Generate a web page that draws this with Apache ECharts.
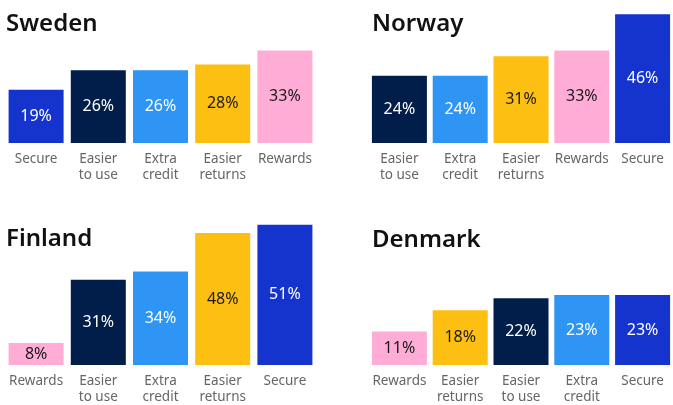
<!DOCTYPE html>
<html>
<head>
<meta charset="utf-8">
<script src="https://cdn.jsdelivr.net/npm/echarts@6/dist/echarts.min.js"></script>
<style>
  html, body { margin: 0; padding: 0; background: #fff; }
  #chart { width: 673px; height: 405px; }
</style>
</head>
<body>
<div id="chart"></div>
<script>
// data per country, in display order
const countries = ['Sweden', 'Norway', 'Finland', 'Denmark'];

const swedenCats = ['Secure', 'Easier\nto use', 'Extra\ncredit', 'Easier\nreturns', 'Rewards'];
const swedenVals = [19, 26, 26, 28, 33];

const norwayCats = ['Easier\nto use', 'Extra\ncredit', 'Easier\nreturns', 'Rewards', 'Secure'];
const norwayVals = [24, 24, 31, 33, 46];

const finlandCats = ['Rewards', 'Easier\nto use', 'Extra\ncredit', 'Easier\nreturns', 'Secure'];
const finlandVals = [8, 31, 34, 48, 51];

const denmarkCats = ['Rewards', 'Easier\nreturns', 'Easier\nto use', 'Extra\ncredit', 'Secure'];
const denmarkVals = [11, 18, 22, 23, 23];

// colours by reason
const colors = {
  'Secure': '#1533cd',
  'Easier\nto use': '#011e4a',
  'Extra\ncredit': '#2e95f5',
  'Easier\nreturns': '#fcbf12',
  'Rewards': '#ffadd6'
};
const darkText = ['Easier\nreturns', 'Rewards'];

const panels = [
  { name: countries[0], cats: swedenCats, vals: swedenVals, max: 51.07 },
  { name: countries[1], cats: norwayCats, vals: norwayVals, max: 51.07 },
  { name: countries[2], cats: finlandCats, vals: finlandVals, max: 51.07 },
  { name: countries[3], cats: denmarkCats, vals: denmarkVals, max: 46.4 } // Denmark drawn on a slightly larger scale
];

const font = '"Noto Sans", sans-serif';
const gridPos = [
  { left: 5, width: 311, top: 0, height: 143 },
  { left: 369, width: 310, top: 0, height: 143 },
  { left: 5, width: 311, top: 224.5, height: 143 },
  { left: 369, width: 310, top: 224, height: 143 }
];
const titlePos = [
  { left: 6, top: 12 },
  { left: 372, top: 12 },
  { left: 6, top: 227 },
  { left: 372, top: 228 }
];

let myChart = echarts.init(document.getElementById('chart'), null, { renderer: 'canvas' });

let option = {
  animation: false,
  title: panels.map((p, i) => ({
    text: p.name,
    left: titlePos[i].left,
    top: titlePos[i].top,
    padding: 0,
    textStyle: { fontFamily: font, fontSize: 24, fontWeight: 600, color: '#111' }
  })),
  grid: gridPos,
  xAxis: panels.map((p, i) => ({
    type: 'category',
    gridIndex: i,
    data: p.cats,
    axisLine: { show: false },
    axisTick: { show: false },
    axisLabel: {
      color: '#666',
      fontFamily: font,
      fontSize: 13.5,
      lineHeight: 16,
      margin: 8,
      interval: 0
    }
  })),
  yAxis: panels.map((p, i) => ({
    type: 'value',
    gridIndex: i,
    min: 0,
    max: p.max,
    show: false,
    splitLine: { show: false }
  })),
  series: panels.map((p, i) => ({
    type: 'bar',
    xAxisIndex: i,
    yAxisIndex: i,
    barWidth: 55,
    data: p.vals.map((v, j) => ({
      value: v,
      itemStyle: { color: colors[p.cats[j]] },
      label: { color: darkText.includes(p.cats[j]) ? '#1a1a1a' : '#fff' }
    })),
    label: {
      show: true,
      position: 'inside',
      formatter: '{c}%',
      fontFamily: font,
      fontSize: 16
    }
  }))
};
myChart.setOption(option);
</script>
</body>
</html>
